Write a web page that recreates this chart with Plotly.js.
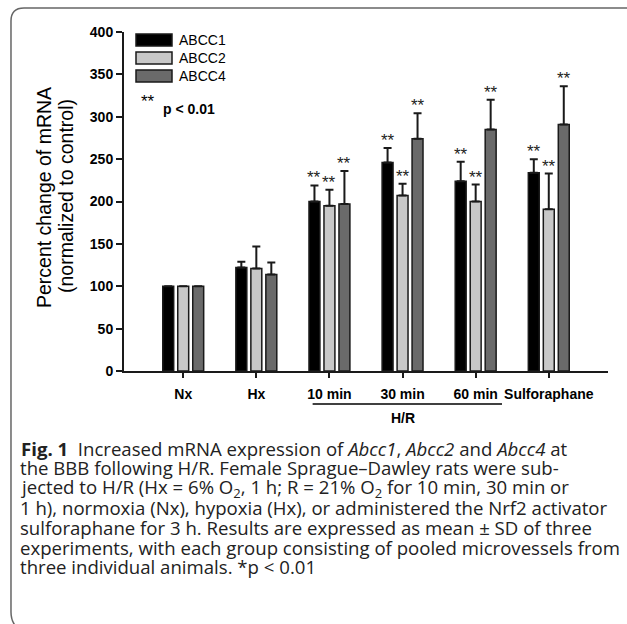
<!DOCTYPE html>
<html>
<head>
<meta charset="utf-8">
<script src="https://cdn.plot.ly/plotly-3.0.1.min.js"></script>
<style>
html,body{margin:0;padding:0;background:#fff;}
#chart{width:627px;height:624px;}
</style>
</head>
<body>
<div id="chart"></div>
<script>
// ---- data ----
var categories = ["Nx", "Hx", "10 min", "30 min", "60 min", "Sulforaphane"];
var seriesNames = ["ABCC1", "ABCC2", "ABCC4"];
var abcc1 = [100, 122, 200, 246, 224, 234];
var abcc2 = [100, 121, 195, 207, 200, 191];
var abcc4 = [100, 114, 197, 274, 285, 291];
var abcc1Err = [null, 7, 19, 17, 23, 16];
var abcc2Err = [null, 26, 19, 14, 20, 42];
var abcc4Err = [null, 14, 39, 30, 35, 45];
var significant = [false, false, true, true, true, true];
var yTicks = [0, 50, 100, 150, 200, 250, 300, 350, 400];

var captionLines = [
  "<b>Fig. 1</b>\u00a0\u00a0Increased mRNA expression of <i>Abcc1</i>, <i>Abcc2</i> and <i>Abcc4</i> at",
  "the BBB following H/R. Female Sprague\u2013Dawley rats were sub-",
  "jected to H/R (Hx = 6% O<sub>2</sub>, 1 h; R = 21% O<sub>2</sub> for 10 min, 30 min or",
  "1 h), normoxia (Nx), hypoxia (Hx), or administered the Nrf2 activator",
  "sulforaphane for 3 h. Results are expressed as mean \u00b1 SD of three",
  "experiments, with each group consisting of pooled microvessels from",
  "three individual animals. *p < 0.01"
];

// ---- styles ----
var colors = ["#000000", "#c8c8c8", "#6a6a6a"];
var W = 627, H = 624;
var M = {l: 124, r: 19, t: 32, b: 253};
var PW = W - M.l - M.r, PH = H - M.t - M.b;
function xp(px) { return (px - M.l) / PW; }
function yp(py) { return (H - M.b - py) / PH; }
var ARIAL = "Liberation Sans, Arial, sans-serif";

var bargap = 0.385;
var values = [abcc1, abcc2, abcc4];
var errs = [abcc1Err, abcc2Err, abcc4Err];

var traces = values.map(function (v, k) {
  return {
    type: "bar",
    name: seriesNames[k],
    x: categories,
    y: v,
    marker: {color: colors[k], line: {color: "#1a1a1a", width: 1.5}},
    error_y: {
      type: "data", symmetric: false,
      array: errs[k],
      arrayminus: errs[k].map(function () { return 0; }),
      color: "#1a1a1a", thickness: 2, width: 4
    },
    showlegend: false,
    hoverinfo: "skip"
  };
});

var annotations = [];
var slot = (1 - bargap) / 3;
values.forEach(function (v, k) {
  v.forEach(function (val, i) {
    if (!significant[i]) return;
    annotations.push({
      x: i + (k - 1) * slot, xref: "x", xanchor: "center",
      y: val + (errs[k][i] || 0), yref: "y",
      text: "**", showarrow: false,
      yanchor: "bottom", yshift: -4,
      font: {family: ARIAL, size: 17, color: "#222"}
    });
  });
});

// y axis title (two lines)
annotations.push({
  xref: "paper", yref: "paper", x: xp(44), y: yp(198),
  xanchor: "center", yanchor: "middle",
  text: "Percent change of mRNA", textangle: -90, showarrow: false,
  font: {family: ARIAL, size: 19.5, color: "#000"}
});
annotations.push({
  xref: "paper", yref: "paper", x: xp(66), y: yp(196),
  xanchor: "center", yanchor: "middle",
  text: "(normalized to control)", textangle: -90, showarrow: false,
  font: {family: ARIAL, size: 19.5, color: "#000"}
});

// legend
var shapes = [];
var legendY = [40, 58, 76];
seriesNames.forEach(function (n, k) {
  shapes.push({
    type: "rect", xref: "paper", yref: "paper",
    x0: xp(136), x1: xp(172), y0: yp(legendY[k] - 6), y1: yp(legendY[k] + 6),
    fillcolor: colors[k], line: {color: "#1a1a1a", width: 1.5}
  });
  annotations.push({
    xref: "paper", yref: "paper", x: xp(177), y: yp(legendY[k]),
    xanchor: "left", yanchor: "middle", text: n, showarrow: false,
    font: {family: ARIAL, size: 14, color: "#000"}
  });
});
annotations.push({
  xref: "paper", yref: "paper", x: xp(139), y: yp(101),
  xanchor: "left", yanchor: "middle", text: "**", showarrow: false,
  font: {family: ARIAL, size: 17, color: "#000"}
});
annotations.push({
  xref: "paper", yref: "paper", x: xp(161), y: yp(109),
  xanchor: "left", yanchor: "middle", text: "<b>p < 0.01</b>", showarrow: false,
  font: {family: ARIAL, size: 14, color: "#000"}
});

// H/R bracket
shapes.push({
  type: "line", xref: "x", yref: "paper",
  x0: 1.77, x1: 4.36, y0: yp(404), y1: yp(404),
  line: {color: "#000", width: 1.5}
});
annotations.push({
  xref: "x", yref: "paper", x: 3, y: yp(418),
  xanchor: "center", yanchor: "middle",
  text: "<b>H/R</b>", showarrow: false,
  font: {family: ARIAL, size: 14, color: "#000"}
});

// caption
captionLines.forEach(function (t, i) {
  annotations.push({
    xref: "paper", yref: "paper", x: xp(i === 0 ? 20 : 19), y: yp(448 + 19.8 * i),
    xanchor: "left", yanchor: "middle", align: "left",
    text: t, showarrow: false, borderpad: 0,
    font: {family: "Open Sans, sans-serif", size: 18.6, color: "#222"}
  });
});

// frame
var fp = function (x, y) { return xp(x).toFixed(4) + "," + yp(y).toFixed(4); };
shapes.push({
  type: "path", xref: "paper", yref: "paper",
  path: "M" + fp(627, 8) + " L" + fp(24, 8) + " Q" + fp(11, 8) + " " + fp(11, 21) +
        " L" + fp(11, 612) + " Q" + fp(11, 624) + " " + fp(20, 630),
  line: {color: "#666", width: 1.5}
});

var layout = {
  width: W, height: H,
  margin: M,
  paper_bgcolor: "#fff", plot_bgcolor: "#fff",
  barmode: "group", bargap: bargap, bargroupgap: 0.27,
  xaxis: {
    type: "category", range: [-0.81, 5.81],
    showline: true, linecolor: "#1a1a1a", linewidth: 2,
    ticks: "outside", ticklen: 5, tickwidth: 2, tickcolor: "#1a1a1a",
    ticklabelstandoff: 4,
    showgrid: false, zeroline: false,
    tickfont: {family: ARIAL, size: 14, color: "#000", weight: "bold"}
  },
  yaxis: {
    range: [0, 400], tickvals: yTicks,
    showline: true, linecolor: "#1a1a1a", linewidth: 2,
    ticks: "outside", ticklen: 6, tickwidth: 2, tickcolor: "#1a1a1a",
    showgrid: false, zeroline: false,
    tickfont: {family: ARIAL, size: 14, color: "#000", weight: "bold"}
  },
  annotations: annotations,
  shapes: shapes
};

Plotly.newPlot("chart", traces, layout, {displayModeBar: false, staticPlot: true});
</script>
</body>
</html>
